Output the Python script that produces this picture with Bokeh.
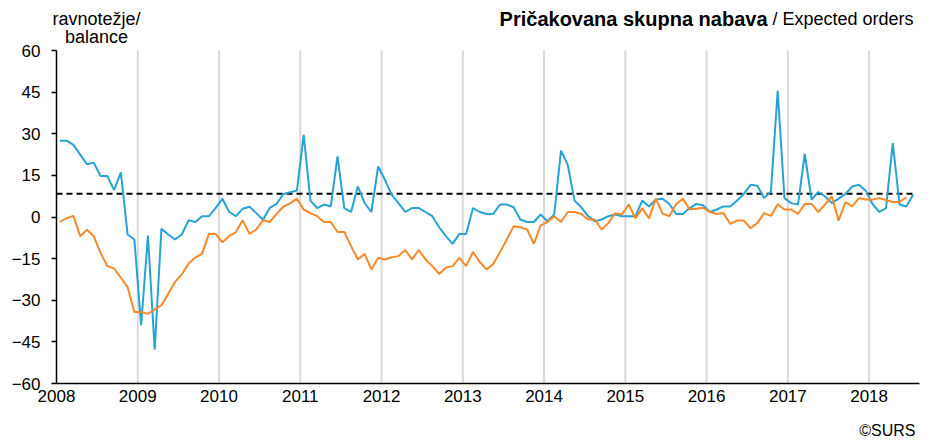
from bokeh.plotting import figure
from bokeh.models import Range1d, FixedTicker, Label
from bokeh.embed import file_html
from bokeh.resources import INLINE

# ---------------- data ----------------
start_year = 2008
end_year = 2018 + 7 / 12
years = list(range(2008, 2019))
year_labels = [str(y) for y in years]
grid_years = list(range(2009, 2019))
y_ticks = [-60, -45, -30, -15, 0, 15, 30, 45, 60]

# monthly balances, Jan 2008 onward
expected_orders = [
    27.5, 27.5, 26.0, 22.5, 19.0, 19.6, 14.8, 14.8, 9.7, 16.1, -6.3, -8.1,
    -39.0, -6.7, -47.8, -4.2, -6.3, -8.1, -6.3, -1.2, -1.8, 0.3, 0.3, 3.2,
    6.6, 1.8, 0.3, 3.0, 3.7, 1.4, -1.0, 3.3, 4.7, 8.3, 8.9, 9.5,
    29.6, 5.9, 3.2, 4.5, 3.8, 21.8, 3.2, 1.8, 11.0, 5.0, 1.8, 18.2,
    13.4, 8.0, 5.0, 1.8, 3.2, 3.2, 1.8, 0.3, -3.7, -6.9, -9.7, -6.1,
    -6.1, 3.2, 1.8, 1.1, 1.1, 4.5, 4.5, 3.5, -0.9, -1.8, -1.8, 0.9,
    -1.5, 0.9, 23.9, 18.8, 5.9, 3.5, 0.3, -1.5, -0.9, 0.3, 0.9, 0.3,
    0.3, 0.3, 5.9, 3.8, 6.3, 6.6, 4.7, 1.1, 1.1, 3.2, 4.7, 4.2,
    1.8, 2.7, 3.8, 3.8, 5.9, 8.3, 11.6, 11.3, 6.8, 9.2, 45.5, 6.8,
    5.0, 4.5, 22.7, 6.3, 9.0, 7.4, 5.0, 6.6, 8.3, 11.0, 11.6, 9.5,
    4.7, 1.8, 3.2, 26.6, 4.5, 3.8, 8.0,
]

second_series = [
    -1.8, -0.4, 0.4, -6.9, -4.6, -6.9, -12.9, -17.7, -18.5, -21.9, -25.3, -34.2,
    -34.2, -34.9, -33.3, -31.8, -27.7, -23.4, -20.7, -16.8, -14.6, -13.3, -6.1, -6.1,
    -9.1, -6.9, -5.4, -1.2, -6.1, -4.5, -1.2, -1.8, 1.1, 3.7, 4.9, 6.6,
    2.7, 1.4, 0.3, -1.8, -1.8, -5.4, -5.4, -10.5, -15.3, -13.3, -18.9, -14.7,
    -15.3, -14.5, -14.1, -11.9, -15.3, -11.9, -15.3, -17.7, -20.5, -18.3, -17.7, -14.7,
    -17.7, -12.6, -16.2, -18.9, -16.9, -12.6, -8.1, -3.3, -3.7, -4.5, -9.7, -3.0,
    -1.8, 0.3, -1.8, 1.8, 1.8, 1.1, -0.9, -0.9, -4.5, -2.2, 1.4, 0.9,
    4.5, -0.5, 3.2, -0.5, 6.6, 1.2, 0.3, 4.6, 6.6, 2.8, 3.0, 3.3,
    1.8, 1.1, 1.4, -2.5, -1.3, -1.3, -4.0, -2.2, 1.4, 0.4, 4.6, 2.7,
    2.7, 1.1, 4.7, 4.7, 1.8, 4.5, 7.4, -1.3, 5.4, 3.8, 6.8, 6.3,
    6.3, 6.8, 6.1, 5.4, 5.4, 7.1,
]

average_level = 8.4

title_bold = "Pričakovana skupna nabava"
title_rest = "/ Expected orders"
y_label_lines = ["ravnotežje/", "balance"]
source_text = "©SURS"

# ---------------- chart ----------------
FONT = "Liberation Sans"
BLUE = "#27A2D4"
ORANGE = "#F68A2A"
W, H = 935, 440
PX_PER_YEAR = 81.26
PX_PER_UNIT = 2.775


def px_x(xpage):
    return start_year + (xpage - 56) / PX_PER_YEAR


def px_y(ypage):
    return y_ticks[-1] - (ypage - 50) / PX_PER_UNIT


x_blue = [start_year + (i + 0.5) / 12 for i in range(len(expected_orders))]
x_orange = [start_year + (i + 0.5) / 12 for i in range(len(second_series))]

p = figure(
    width=W, height=H,
    x_range=Range1d(px_x(0), px_x(W)),
    y_range=Range1d(px_y(H), px_y(0)),
    output_backend="svg", toolbar_location=None,
    min_border=0, min_border_left=0, min_border_right=0,
    min_border_top=0, min_border_bottom=0,
)
p.outline_line_color = None
p.background_fill_color = "white"
p.border_fill_color = "white"
p.xgrid.visible = False
p.ygrid.visible = False

# vertical year gridlines, limited to the value range
p.segment(x0=grid_years, x1=grid_years,
          y0=[y_ticks[0]] * len(grid_years), y1=[y_ticks[-1]] * len(grid_years),
          line_color="#d9d9d9", line_width=2)

# axes at fixed positions
xa = p.xaxis[0]
ya = p.yaxis[0]
xa.fixed_location = y_ticks[0]
ya.fixed_location = start_year
xa.bounds = (start_year, px_x(919))
ya.bounds = (y_ticks[0], y_ticks[-1])
xa.ticker = FixedTicker(ticks=years)
xa.major_label_overrides = {y: s for y, s in zip(years, year_labels)}
ya.ticker = FixedTicker(ticks=y_ticks)
for ax in (xa, ya):
    ax.axis_line_color = "black"
    ax.axis_line_width = 1.5
    ax.major_tick_line_color = "black"
    ax.major_tick_line_width = 1.5
    ax.major_tick_in = 0
    ax.minor_tick_line_color = None
    ax.major_label_text_font = FONT
    ax.major_label_text_font_size = "17px"
    ax.major_label_text_color = "black"
xa.major_tick_out = 0
xa.major_label_standoff = 6
ya.major_tick_out = 5
ya.major_label_standoff = 11

# average dashed line
p.line([start_year, px_x(913)], [average_level, average_level], line_color="black",
       line_width=2, line_dash="6 4")

p.line(x_blue, expected_orders, line_color=BLUE, line_width=2)
p.line(x_orange, second_series, line_color=ORANGE, line_width=2)

# texts
p.add_layout(Label(x=px_x(913), y=px_y(18), text=title_rest, text_align="right",
                   text_baseline="middle", text_font=FONT, text_font_size="18px",
                   text_color="black"))
p.add_layout(Label(x=px_x(767), y=px_y(18), text=title_bold, text_align="right",
                   text_baseline="middle", text_font=FONT, text_font_size="20px",
                   text_font_style="bold", text_color="black"))
p.add_layout(Label(x=px_x(96), y=px_y(18), text=y_label_lines[0], text_align="center",
                   text_baseline="middle", text_font=FONT, text_font_size="18px",
                   text_color="black"))
p.add_layout(Label(x=px_x(96), y=px_y(36), text=y_label_lines[1], text_align="center",
                   text_baseline="middle", text_font=FONT, text_font_size="18px",
                   text_color="black"))
p.add_layout(Label(x=px_x(915), y=px_y(430), text=source_text, text_align="right",
                   text_baseline="middle", text_font=FONT, text_font_size="16px",
                   text_color="black"))

open("out.html", "w").write(file_html(p, INLINE))
